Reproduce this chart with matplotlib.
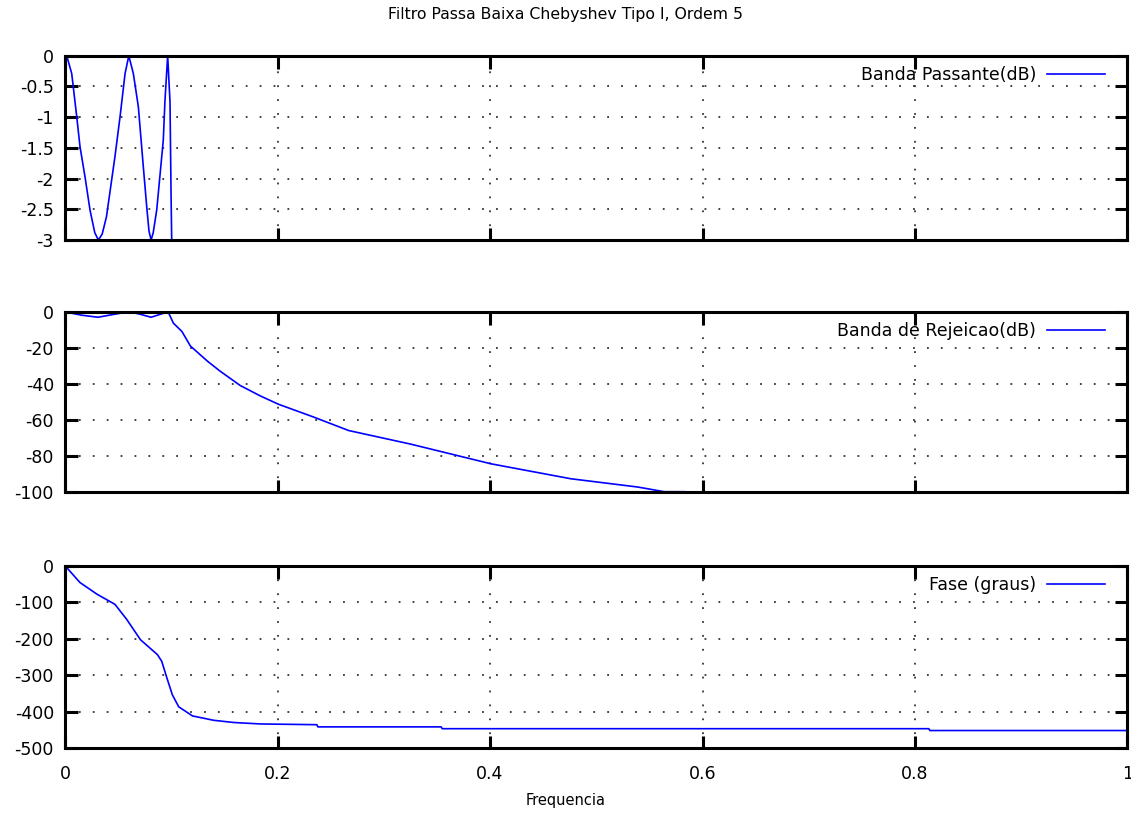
import matplotlib
matplotlib.use('Agg')
import matplotlib.pyplot as plt

plt.rcParams['font.family'] = ['DejaVu Sans']
plt.rcParams['axes.unicode_minus'] = False

# Banda passante (dB) - ripple de 3 dB
f_pass = [0.0, 0.0016, 0.0063, 0.011, 0.0141, 0.0188, 0.0235, 0.028, 0.0314, 0.035, 0.039, 0.047,
          0.0518, 0.0565, 0.060, 0.0643, 0.069, 0.0737, 0.0769, 0.079, 0.081, 0.083, 0.0863,
          0.0925, 0.094, 0.0966, 0.0988, 0.0998, 0.1004, 0.101]
db_pass = [0.0, 0.0, -0.29, -0.99, -1.48, -1.97, -2.51, -2.88, -3.0, -2.9, -2.62, -1.64,
           -0.99, -0.29, 0.0, -0.29, -0.83, -1.81, -2.46, -2.85, -3.0, -2.88, -2.51,
           -1.37, -0.75, 0.0, -0.75, -2.27, -3.0, -4.0]

# Banda de rejeicao (dB)
f_rej = [0.0, 0.015, 0.031, 0.045, 0.060, 0.070, 0.081, 0.090, 0.097, 0.102, 0.110,
         0.118, 0.134, 0.146, 0.165, 0.184, 0.201, 0.234, 0.267, 0.325,
         0.401, 0.476, 0.539, 0.564, 0.583]
db_rej = [0.0, -1.8, -3.0, -1.5, 0.0, -1.2, -3.0, -1.3, 0.0, -6.3, -10.9,
          -19.0, -27.4, -33.0, -41.0, -46.8, -51.4, -58.5, -66.0, -73.5,
          -84.5, -92.8, -97.4, -100.0, -100.0]

# Fase (graus)
f_fase = [0.0, 0.014, 0.030, 0.047, 0.058, 0.071, 0.087, 0.091, 0.096, 0.101, 0.107,
          0.120, 0.140, 0.159, 0.184, 0.237, 0.238, 0.354, 0.355, 0.813, 0.814, 1.0]
fase = [0.0, -46.0, -78.0, -106.0, -147.0, -203.0, -244.0, -262.0, -309.0, -354.0, -387.0,
        -412.0, -424.0, -430.0, -434.0, -436.0, -442.0, -442.0, -447.0, -447.0, -452.0, -452.0]

x_ticks = [0, 0.2, 0.4, 0.6, 0.8, 1.0]
x_labels = ['0', '0.2', '0.4', '0.6', '0.8', '1']

panels = [
    (f_pass, db_pass, 'Banda Passante(dB)', (-3, 0),
     [0, -0.5, -1, -1.5, -2, -2.5, -3], ['0', '-0.5', '-1', '-1.5', '-2', '-2.5', '-3'],
     [0.0575, 0.709, 0.9394, 0.2234]),
    (f_rej, db_rej, 'Banda de Rejeicao(dB)', (-100, 0),
     [0, -20, -40, -60, -80, -100], ['0', '-20', '-40', '-60', '-80', '-100'],
     [0.0575, 0.404, 0.9394, 0.218]),
    (f_fase, fase, 'Fase (graus)', (-500, 0),
     [0, -100, -200, -300, -400, -500], ['0', '-100', '-200', '-300', '-400', '-500'],
     [0.0575, 0.0933, 0.9394, 0.221]),
]

fig = plt.figure(figsize=(11.31, 8.25), dpi=100)

for i, (xs, ys, label, ylim, yt, ytl, rect) in enumerate(panels):
    ax = fig.add_axes(rect)
    ax.plot(xs, ys, color='#0000ff', linewidth=1.2, label=label)
    ax.set_xlim(0, 1)
    ax.set_ylim(*ylim)
    ax.set_yticks(yt)
    ax.set_yticklabels(ytl)
    ax.set_xticks(x_ticks)
    if i == 2:
        ax.set_xticklabels(x_labels)
    else:
        ax.set_xticklabels([])
    ax.tick_params(direction='in', length=9, width=2.2, top=True, right=True,
                   labelsize=12.5)
    ax.tick_params(axis='y', pad=8)
    ax.tick_params(axis='x', pad=12)
    for sp in ax.spines.values():
        sp.set_linewidth(2.2)
    ax.grid(True, color='#333333', linestyle=(0, (1, 6.7)), linewidth=1.3)
    h_px = rect[3] * 825
    ax.legend(loc='upper right', frameon=False, markerfirst=False, fontsize=12.5,
              handlelength=3.35, handletextpad=0.63, borderaxespad=0, borderpad=0,
              bbox_to_anchor=(0.979, 1 - 10.5 / h_px))

fig.text(0.5, 0.982, 'Filtro Passa Baixa Chebyshev Tipo I, Ordem 5',
         ha='center', va='center', fontsize=11.3)
fig.text(0.5, 0.030, 'Frequencia', ha='center', va='center', fontsize=10.5)

plt.savefig('out.png', dpi=100)
